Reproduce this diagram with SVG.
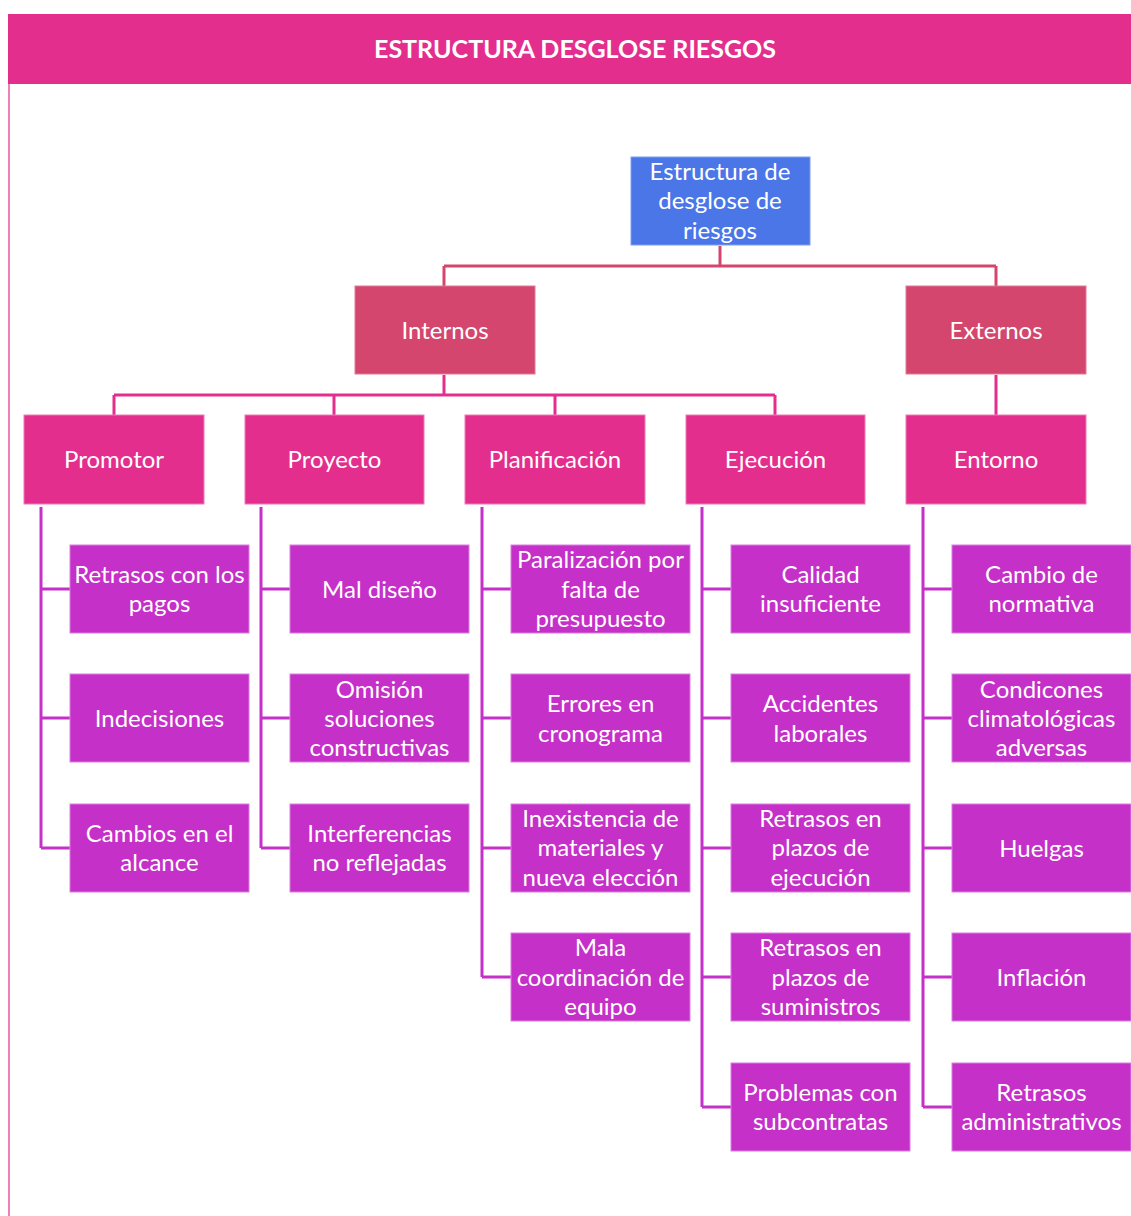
<svg xmlns="http://www.w3.org/2000/svg" width="1131" height="1216" viewBox="0 0 1131 1216">
<style>
.t{font-family:Lato,"Open Sans","Liberation Sans",sans-serif;font-size:24px;fill:#fff;text-anchor:middle}
.title{font-family:Lato,"Open Sans","Liberation Sans",sans-serif;font-size:25px;font-weight:bold;fill:#fff;text-anchor:middle}
.root{fill:#4a76e8;stroke:#7fa0f0;stroke-width:1}
.l1{fill:#d4466e;stroke:#e07a98;stroke-width:1}
.l2{fill:#e32e8e;stroke:#ee7ab8;stroke-width:1}
.leaf{fill:#c530c8;stroke:#da7ee0;stroke-width:1}
.c1{stroke:#d4466e;stroke-width:3;fill:none}
.c2{stroke:#e32e8e;stroke-width:3;fill:none}
.c3{stroke:#c530c8;stroke-width:3;fill:none}
</style>
<rect width="1131" height="1216" fill="#fff"/>
<rect x="8" y="14" width="1123" height="70" fill="#e32e8e"/>
<text class="title" x="575" y="58">ESTRUCTURA DESGLOSE RIESGOS</text>
<line x1="9" y1="84" x2="9" y2="1216" stroke="#ec82bc" stroke-width="2"/>
<g id="connectors">
<path class="c1" d="M720 246V266M444 266H996M444 266V286M996 266V286"/>
<path class="c2" d="M444 375V395M114 395H775M114 395V415M334 395V415M555 395V415M775 395V415M996 375V415"/>
<path class="c3" d="M41 507V848M41 589H70M41 718H70M41 848H70"/>
<path class="c3" d="M261 507V848M261 589H290M261 718H290M261 848H290"/>
<path class="c3" d="M482 507V977M482 589H511M482 718H511M482 848H511M482 977H511"/>
<path class="c3" d="M702 507V1107M702 589H731M702 718H731M702 848H731M702 977H731M702 1107H731"/>
<path class="c3" d="M923 507V1107M923 589H952M923 718H952M923 848H952M923 977H952M923 1107H952"/>
</g>
<g id="root"><rect class="root" x="631" y="157" width="179" height="88"/><text class="t" x="720" y="179.5">Estructura de</text><text class="t" x="720" y="209">desglose de</text><text class="t" x="720" y="238.5">riesgos</text></g>
<g id="internos"><rect class="l1" x="355" y="286" width="180" height="88"/><text class="t" x="445" y="338.5">Internos</text></g>
<g id="externos"><rect class="l1" x="906" y="286" width="180" height="88"/><text class="t" x="996" y="338.5">Externos</text></g>
<g id="promotor"><rect class="l2" x="24" y="415" width="180" height="89"/><text class="t" x="114" y="467.5">Promotor</text></g>
<g id="proyecto"><rect class="l2" x="245" y="415" width="179" height="89"/><text class="t" x="334.5" y="467.5">Proyecto</text></g>
<g id="planificacion"><rect class="l2" x="465" y="415" width="180" height="89"/><text class="t" x="555" y="467.5">Planificación</text></g>
<g id="ejecucion"><rect class="l2" x="686" y="415" width="179" height="89"/><text class="t" x="775.5" y="467.5">Ejecución</text></g>
<g id="entorno"><rect class="l2" x="906" y="415" width="180" height="89"/><text class="t" x="996" y="467.5">Entorno</text></g>

<g id="retrasos-pagos"><rect class="leaf" x="70" y="545" width="179" height="88"/><text class="t" x="159.5" y="582.5">Retrasos con los</text><text class="t" x="159.5" y="612">pagos</text></g>
<g id="indecisiones"><rect class="leaf" x="70" y="674" width="179" height="88"/><text class="t" x="159.5" y="726.5">Indecisiones</text></g>
<g id="cambios-alcance"><rect class="leaf" x="70" y="804" width="179" height="88"/><text class="t" x="159.5" y="841.5">Cambios en el</text><text class="t" x="159.5" y="871">alcance</text></g>

<g id="mal-diseno"><rect class="leaf" x="290" y="545" width="179" height="88"/><text class="t" x="379.5" y="597.5">Mal diseño</text></g>
<g id="omision"><rect class="leaf" x="290" y="674" width="179" height="88"/><text class="t" x="379.5" y="697.5">Omisión</text><text class="t" x="379.5" y="726.5">soluciones</text><text class="t" x="379.5" y="756">constructivas</text></g>
<g id="interferencias"><rect class="leaf" x="290" y="804" width="179" height="88"/><text class="t" x="379.5" y="841.5">Interferencias</text><text class="t" x="379.5" y="871">no reflejadas</text></g>

<g id="paralizacion"><rect class="leaf" x="511" y="545" width="179" height="88"/><text class="t" x="600.5" y="568">Paralización por</text><text class="t" x="600.5" y="597.5">falta de</text><text class="t" x="600.5" y="626.5">presupuesto</text></g>
<g id="errores"><rect class="leaf" x="511" y="674" width="179" height="88"/><text class="t" x="600.5" y="712">Errores en</text><text class="t" x="600.5" y="741.5">cronograma</text></g>
<g id="inexistencia"><rect class="leaf" x="511" y="804" width="179" height="88"/><text class="t" x="600.5" y="826.5">Inexistencia de</text><text class="t" x="600.5" y="856">materiales y</text><text class="t" x="600.5" y="885.5">nueva elección</text></g>
<g id="mala-coordinacion"><rect class="leaf" x="511" y="933" width="179" height="88"/><text class="t" x="600.5" y="956">Mala</text><text class="t" x="600.5" y="985.5">coordinación de</text><text class="t" x="600.5" y="1014.5">equipo</text></g>

<g id="calidad"><rect class="leaf" x="731" y="545" width="179" height="88"/><text class="t" x="820.5" y="582.5">Calidad</text><text class="t" x="820.5" y="612">insuficiente</text></g>
<g id="accidentes"><rect class="leaf" x="731" y="674" width="179" height="88"/><text class="t" x="820.5" y="712">Accidentes</text><text class="t" x="820.5" y="741.5">laborales</text></g>
<g id="retrasos-ejecucion"><rect class="leaf" x="731" y="804" width="179" height="88"/><text class="t" x="820.5" y="826.5">Retrasos en</text><text class="t" x="820.5" y="856">plazos de</text><text class="t" x="820.5" y="885.5">ejecución</text></g>
<g id="retrasos-suministros"><rect class="leaf" x="731" y="933" width="179" height="88"/><text class="t" x="820.5" y="956">Retrasos en</text><text class="t" x="820.5" y="985.5">plazos de</text><text class="t" x="820.5" y="1014.5">suministros</text></g>
<g id="subcontratas"><rect class="leaf" x="731" y="1063" width="179" height="88"/><text class="t" x="820.5" y="1100.5">Problemas con</text><text class="t" x="820.5" y="1129.5">subcontratas</text></g>

<g id="normativa"><rect class="leaf" x="952" y="545" width="179" height="88"/><text class="t" x="1041.5" y="582.5">Cambio de</text><text class="t" x="1041.5" y="612">normativa</text></g>
<g id="condiciones"><rect class="leaf" x="952" y="674" width="179" height="88"/><text class="t" x="1041.5" y="697.5">Condicones</text><text class="t" x="1041.5" y="726.5">climatológicas</text><text class="t" x="1041.5" y="756">adversas</text></g>
<g id="huelgas"><rect class="leaf" x="952" y="804" width="179" height="88"/><text class="t" x="1041.5" y="856.5">Huelgas</text></g>
<g id="inflacion"><rect class="leaf" x="952" y="933" width="179" height="88"/><text class="t" x="1041.5" y="985.5">Inflación</text></g>
<g id="retrasos-admin"><rect class="leaf" x="952" y="1063" width="179" height="88"/><text class="t" x="1041.5" y="1100.5">Retrasos</text><text class="t" x="1041.5" y="1129.5">administrativos</text></g>
</svg>
